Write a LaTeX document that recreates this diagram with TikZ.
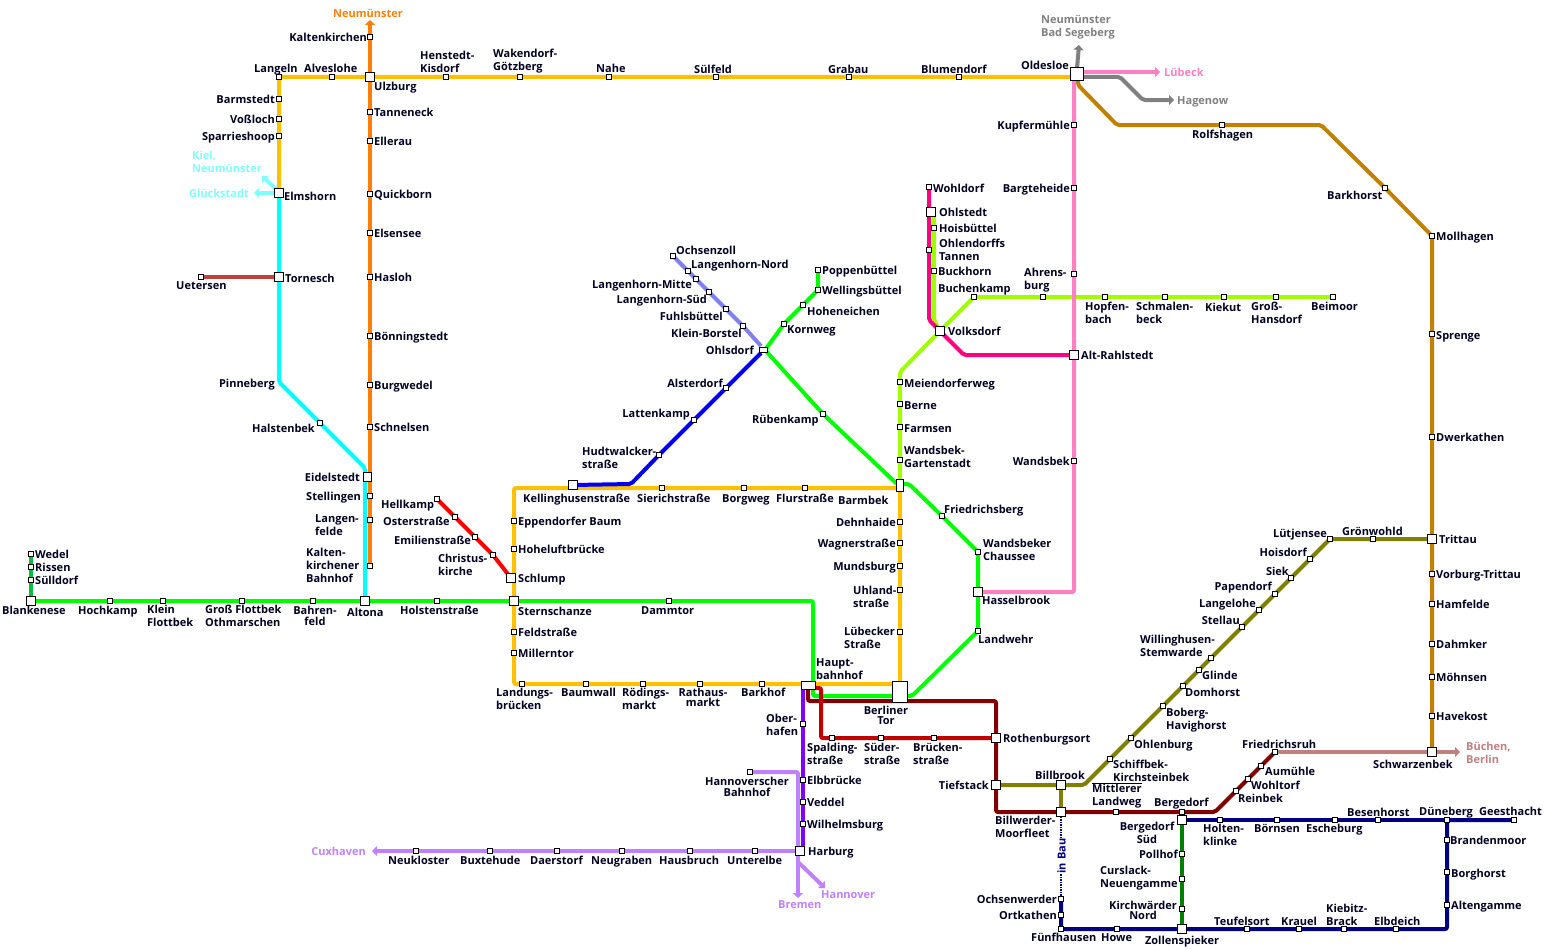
\documentclass[tikz,border=0pt]{standalone}
\usepackage{fontspec}
\setmainfont{Open Sans}
\usetikzlibrary{arrows.meta,backgrounds}
\definecolor{lyellow}{RGB}{255,192,0}
\definecolor{lorange}{RGB}{255,128,0}
\definecolor{lcyan}{RGB}{0,255,255}
\definecolor{lcyanb}{RGB}{128,255,255}
\definecolor{lgreen}{RGB}{0,255,0}
\definecolor{lgreend}{RGB}{0,192,64}
\definecolor{lred}{RGB}{255,0,0}
\definecolor{lblue}{RGB}{0,0,240}
\definecolor{llav}{RGB}{128,128,240}
\definecolor{lpurple}{RGB}{128,0,255}
\definecolor{llilac}{RGB}{192,128,255}
\definecolor{lmaroon}{RGB}{128,0,0}
\definecolor{lcrimson}{RGB}{192,0,0}
\definecolor{lolive}{RGB}{128,128,0}
\definecolor{lpink}{RGB}{255,128,192}
\definecolor{lmagenta}{RGB}{255,0,128}
\definecolor{llime}{RGB}{160,255,0}
\definecolor{lbrown}{RGB}{192,128,0}
\definecolor{lgrey}{RGB}{128,128,128}
\definecolor{lnavy}{RGB}{0,0,128}
\definecolor{lforest}{RGB}{0,128,0}
\definecolor{lrosy}{RGB}{192,128,128}
\definecolor{lbrick}{RGB}{192,64,64}
\definecolor{tink}{RGB}{0,0,32}
\tikzset{
  stop/.style={draw=black,fill=white,line width=1pt,minimum size=4.5pt,inner sep=0pt},
  hub/.style={draw=black,fill=white,line width=1pt,minimum size=8.5pt,inner sep=0pt},
  txt/.style={anchor=west,align=left,inner sep=0pt,text=tink,font=\fontsize{11}{13}\selectfont\bfseries,text height=9pt,text depth=0pt},
  txtr/.style={txt,anchor=east,align=right},
  txtc/.style={txt,anchor=center,align=center},
  txm/.style={txt,text height=,text depth=},
  txmc/.style={txtc,text height=,text depth=},
  track/.style={line width=4pt,rounded corners=2pt},
  tip/.style={-{Triangle[length=5pt,width=10pt]}}
}
\begin{document}
\begin{tikzpicture}[x=1pt,y=-1pt]
\useasboundingbox (0,0) rectangle (1550,950);
% west: S1 and Wedel
\node[stop] (wedel) at (31,554) {}; \node[txt] (wedel_t) at (35,554) {Wedel};
\node[stop] (rissen) at (31,567) {}; \node[txt] (rissen_t) at (35,567) {Rissen};
\node[stop] (suelldorf) at (31,580) {}; \node[txt] (suelldorf_t) at (35,580) {Sülldorf};
\node[hub] (blankenese) at (31,601) {}; \node[txt] (blankenese_t) at (2,610) {Blankenese};
\node[stop] (hochkamp) at (110,601) {}; \node[txt] (hochkamp_t) at (78,610) {Hochkamp};
\node[stop] (kleinfl) at (163,601) {}; \node[txm] (kleinfl_t) at (147,616) {Klein\\Flottbek};
\node[stop] (othm) at (242,601) {}; \node[txm] (othm_t) at (205,616) {Groß Flottbek\\Othmarschen};
\node[stop] (bahrenfeld) at (313,601) {}; \node[txmc] (bahrenfeld_t) at (315,615.5) {Bahren-\\[-2pt]feld};
\node[hub] (altona) at (365,601) {}; \node[txt] (altona_t) at (347,612) {Altona};
\node[stop] (holsten) at (437,601) {}; \node[txt] (holsten_t) at (400,610) {Holstenstraße};
\node[hub] (sternschanze) at (514,601) {}; \node[txt] (sternschanze_t) at (518,611) {Sternschanze};
\node[stop] (dammtor) at (669,601) {}; \node[txt] (dammtor_t) at (641,610) {Dammtor};
% AKN and north-west
\node[stop] (langeln) at (279,77) {}; \node[txt] (langeln_t) at (254,68) {Langeln};
\node[stop] (alveslohe) at (332,77) {}; \node[txt] (alveslohe_t) at (304,68) {Alveslohe};
\node[hub] (ulzburg) at (370,77) {}; \node[txt] (ulzburg_t) at (374,86) {Ulzburg};
\node[stop] (henstedt) at (446,77) {}; \node[txm] (henstedt_t) at (420,62) {Henstedt-\\Kisdorf};
\node[stop] (wakendorf) at (520,77) {}; \node[txm] (wakendorf_t) at (493,61) {Wakendorf-\\Götzberg};
\node[stop] (nahe) at (609,77) {}; \node[txt] (nahe_t) at (596,68) {Nahe};
\node[stop] (suelfeld) at (716,77) {}; \node[txt] (suelfeld_t) at (694,69) {Sülfeld};
\node[stop] (grabau) at (849,77) {}; \node[txt] (grabau_t) at (828,69) {Grabau};
\node[stop] (blumendorf) at (959,77) {}; \node[txt] (blumendorf_t) at (921,69) {Blumendorf};
\node[hub,minimum size=13pt] (oldesloe) at (1076.5,74) {}; \node[txtr] (oldesloe_t) at (1069,65) {Oldesloe};
\node[stop] (barmstedt) at (279,99) {}; \node[txtr] (barmstedt_t) at (275,99) {Barmstedt};
\node[stop] (vossloch) at (279,119) {}; \node[txtr] (vossloch_t) at (275,119) {Voßloch};
\node[stop] (sparries) at (279,136) {}; \node[txtr] (sparries_t) at (275,136) {Sparrieshoop};
\node[hub] (elmshorn) at (279,193) {}; \node[txt] (elmshorn_t) at (284,196) {Elmshorn};
\node[hub] (tornesch) at (279,277) {}; \node[txt] (tornesch_t) at (285,278) {Tornesch};
\coordinate (pinneberg) at (279,382); \node[txtr] (pinneberg_t) at (275,383) {Pinneberg};
\node[stop] (halstenbek) at (320,423) {}; \node[txtr] (halstenbek_t) at (315,428) {Halstenbek};
\node[hub] (eidelstedt) at (367.5,477) {}; \node[txtr] (eidelstedt_t) at (360,477) {Eidelstedt};
\node[stop] (uetersen) at (201,277) {}; \node[txt] (uetersen_t) at (176,285) {Uetersen};
\node[stop] (kaltenk) at (370,37) {}; \node[txtr] (kaltenk_t) at (367,37) {Kaltenkirchen};
\node[stop] (tanneneck) at (370,112) {}; \node[txt] (tanneneck_t) at (374,112) {Tanneneck};
\node[stop] (ellerau) at (370,141) {}; \node[txt] (ellerau_t) at (374,141) {Ellerau};
\node[stop] (quickborn) at (370,194) {}; \node[txt] (quickborn_t) at (374,194) {Quickborn};
\node[stop] (elsensee) at (370,233) {}; \node[txt] (elsensee_t) at (374,233) {Elsensee};
\node[stop] (hasloh) at (370,277) {}; \node[txt] (hasloh_t) at (374,277) {Hasloh};
\node[stop] (boenning) at (370,336) {}; \node[txt] (boenning_t) at (374,336) {Bönningstedt};
\node[stop] (burgwedel) at (370,385) {}; \node[txt] (burgwedel_t) at (374,385) {Burgwedel};
\node[stop] (schnelsen) at (370,427) {}; \node[txt] (schnelsen_t) at (374,427) {Schnelsen};
\node[stop] (stellingen) at (370,496) {}; \node[txtr] (stellingen_t) at (361,496) {Stellingen};
\node[stop] (langenfelde) at (370,520) {}; \node[txm] (langenfelde_t) at (315,525) {Langen-\\felde};
\node[stop] (kaltenkbf) at (370,566) {}; \node[txm] (kaltenkbf_t) at (306,565) {Kalten-\\kirchener\\Bahnhof};
% U2 stub and the ring
\node[stop] (hellkamp) at (437,499) {}; \node[txt] (hellkamp_t) at (381,504) {Hellkamp};
\node[stop] (osterstr) at (455,517) {}; \node[txt] (osterstr_t) at (383,521) {Osterstraße};
\node[stop] (emilien) at (475,537) {}; \node[txt] (emilien_t) at (394,540) {Emilienstraße};
\node[stop] (christus) at (493,555) {}; \node[txm] (christus_t) at (438,565) {Christus-\\kirche};
\node[hub] (schlump) at (511,578) {}; \node[txt] (schlump_t) at (518,578) {Schlump};
\node[stop] (eppendorf) at (514,521) {}; \node[txt] (eppendorf_t) at (518,521) {Eppendorfer Baum};
\node[stop] (hoheluft) at (514,549) {}; \node[txt] (hoheluft_t) at (518,549) {Hoheluftbrücke};
\node[stop] (feldstr) at (514,632) {}; \node[txt] (feldstr_t) at (518,632) {Feldstraße};
\node[stop] (millerntor) at (514,653) {}; \node[txt] (millerntor_t) at (518,653) {Millerntor};
\node[stop] (landungsbr) at (522,684) {}; \node[txm] (landungsbr_t) at (496,699) {Landungs-\\brücken};
\node[stop] (baumwall) at (586,684) {}; \node[txt] (baumwall_t) at (561,692) {Baumwall};
\node[stop] (roedings) at (643,684) {}; \node[txm] (roedings_t) at (622,699) {Rödings-\\markt};
\node[stop] (rathaus) at (700,684) {}; \node[txmc] (rathaus_t) at (703,697) {Rathaus-\\[-3pt]markt};
\node[stop] (barkhof) at (762,684) {}; \node[txt] (barkhof_t) at (741,692) {Barkhof};
\node[hub,minimum width=14pt,minimum height=8pt] (hbf) at (808,685) {}; \node[txm] (hbf_t) at (816,669) {Haupt-\\bahnhof};
\node[hub,minimum width=15pt,minimum height=21pt] (berlinertor) at (900,691.5) {}; \node[txmc] (berlinertor_t) at (886,715) {Berliner\\[-3pt]Tor};
\node[hub] (kelling) at (573,485) {}; \node[txt] (kelling_t) at (523,498) {Kellinghusenstraße};
\node[stop] (sierich) at (662,488) {}; \node[txt] (sierich_t) at (637,498) {Sierichstraße};
\node[stop] (borgweg) at (744,488) {}; \node[txt] (borgweg_t) at (722,498) {Borgweg};
\node[stop] (flurstr) at (805,488) {}; \node[txt] (flurstr_t) at (776,498) {Flurstraße};
\node[hub,minimum width=7pt,minimum height=12pt] (barmbek) at (900,485) {}; \node[txt] (barmbek_t) at (838,500) {Barmbek};
\node[stop] (dehnhaide) at (900,522) {}; \node[txtr] (dehnhaide_t) at (896,522) {Dehnhaide};
\node[stop] (wagnerstr) at (900,543) {}; \node[txtr] (wagnerstr_t) at (896,543) {Wagnerstraße};
\node[stop] (mundsburg) at (900,566) {}; \node[txtr] (mundsburg_t) at (896,566) {Mundsburg};
\node[stop] (uhland) at (900,590) {}; \node[txm] (uhland_t) at (853,597) {Uhland-\\straße};
\node[stop] (luebeckerstr) at (900,632) {}; \node[txm] (luebeckerstr_t) at (844,638) {Lübecker\\Straße};
% Ohlsdorf branches
\node[hub,minimum width=8pt,minimum height=5pt] (ohlsdorf) at (763,350) {}; \node[txtr] (ohlsdorf_t) at (754,350) {Ohlsdorf};
\node[stop] (ochsenzoll) at (673,256) {}; \node[txt] (ochsenzoll_t) at (676,250) {Ochsenzoll};
\node[stop] (lhnord) at (688,271) {}; \node[txt] (lhnord_t) at (691,264) {Langenhorn-Nord};
\node[stop] (lhmitte) at (696,279) {}; \node[txtr] (lhmitte_t) at (692,284) {Langenhorn-Mitte};
\node[stop] (lhsued) at (709,292) {}; \node[txtr] (lhsued_t) at (707,299) {Langenhorn-Süd};
\node[stop] (fuhls) at (726,309) {}; \node[txtr] (fuhls_t) at (723,316) {Fuhlsbüttel};
\node[stop] (kleinborstel) at (743,326) {}; \node[txtr] (kleinborstel_t) at (742,333) {Klein-Borstel};
\node[stop] (poppenb) at (818,270) {}; \node[txt] (poppenb_t) at (822,270) {Poppenbüttel};
\node[stop] (wellingsb) at (818,290) {}; \node[txt] (wellingsb_t) at (822,290) {Wellingsbüttel};
\node[stop] (hoheneichen) at (803,305) {}; \node[txt] (hoheneichen_t) at (807,311) {Hoheneichen};
\node[stop] (kornweg) at (784,324) {}; \node[txt] (kornweg_t) at (787,329) {Kornweg};
\node[stop] (ruebenkamp) at (823,414) {}; \node[txt] (ruebenkamp_t) at (752,419) {Rübenkamp};
\node[stop] (alsterdorf) at (726,388) {}; \node[txtr] (alsterdorf_t) at (723,383) {Alsterdorf};
\node[stop] (lattenkamp) at (694,420) {}; \node[txtr] (lattenkamp_t) at (690,413) {Lattenkamp};
\node[stop] (hudtwalcker) at (659,455) {}; \node[txm] (hudtwalcker_t) at (582,458) {Hudtwalcker-\\straße};
\node[stop] (friedrichsbg) at (942,516) {}; \node[txt] (friedrichsbg_t) at (944,509) {Friedrichsberg};
\node[stop] (wandsbekch) at (978,552) {}; \node[txm] (wandsbekch_t) at (983,550) {Wandsbeker\\Chaussee};
\node[hub] (hasselbrook) at (978,592) {}; \node[txt] (hasselbrook_t) at (982,600) {Hasselbrook};
\node[stop] (landwehr) at (978,631) {}; \node[txt] (landwehr_t) at (978,639) {Landwehr};
% Walddoerfer
\node[stop] (wohldorf) at (929,187) {}; \node[txt] (wohldorf_t) at (933,188) {Wohldorf};
\node[hub] (ohlstedt) at (931,212) {}; \node[txt] (ohlstedt_t) at (939,212) {Ohlstedt};
\node[stop] (hoisbuettel) at (934,228) {}; \node[txt] (hoisbuettel_t) at (939,228) {Hoisbüttel};
\node[stop] (ohlendorffs) at (929,250) {}; \node[txm] (ohlendorffs_t) at (939,250) {Ohlendorffs\\Tannen};
\node[stop] (buckhorn) at (934,271) {}; \node[txt] (buckhorn_t) at (938,271) {Buckhorn};
\node[stop] (buchenkamp) at (974,297) {}; \node[txt] (buchenkamp_t) at (938,288) {Buchenkamp};
\node[hub] (volksdorf) at (940,331) {}; \node[txt] (volksdorf_t) at (948,331) {Volksdorf};
\node[stop] (ahrensbg) at (1043,297) {}; \node[txm] (ahrensbg_t) at (1024,280) {Ahrens-\\burg};
\node[stop] (hopfenbach) at (1105,297) {}; \node[txm] (hopfenbach_t) at (1085,313) {Hopfen-\\bach};
\node[stop] (schmalenb) at (1165,297) {}; \node[txm] (schmalenb_t) at (1136,313) {Schmalen-\\beck};
\node[stop] (kiekut) at (1224,297) {}; \node[txt] (kiekut_t) at (1205,307) {Kiekut};
\node[stop] (hansdorf) at (1276,297) {}; \node[txm] (hansdorf_t) at (1251,313) {Groß-\\Hansdorf};
\node[stop] (beimoor) at (1333,297) {}; \node[txt] (beimoor_t) at (1311,306) {Beimoor};
\node[stop] (meiendorf) at (900,382) {}; \node[txt] (meiendorf_t) at (904,383) {Meiendorferweg};
\node[stop] (berne) at (900,404) {}; \node[txt] (berne_t) at (904,405) {Berne};
\node[stop] (farmsen) at (900,427) {}; \node[txt] (farmsen_t) at (904,428) {Farmsen};
\node[stop] (gartenstadt) at (900,460) {}; \node[txm] (gartenstadt_t) at (904,457) {Wandsbek-\\Gartenstadt};
% Luebeck line
\node[stop] (kupfer) at (1074,125) {}; \node[txtr] (kupfer_t) at (1070,125) {Kupfermühle};
\node[stop] (bargteheide) at (1074,188) {}; \node[txtr] (bargteheide_t) at (1070,188) {Bargteheide};
\node[stop] (ahrensb) at (1074,274) {};
\node[hub] (altrahl) at (1074,355) {}; \node[txt] (altrahl_t) at (1081,355) {Alt-Rahlstedt};
\node[stop] (wandsbek) at (1074,461) {}; \node[txtr] (wandsbek_t) at (1070,461) {Wandsbek};
% Trittau and Schwarzenbek
\node[stop] (rolfshagen) at (1222,125) {}; \node[txt] (rolfshagen_t) at (1192,134) {Rolfshagen};
\node[stop] (barkhorst) at (1385,188) {}; \node[txt] (barkhorst_t) at (1327,195) {Barkhorst};
\node[stop] (mollhagen) at (1432,236) {}; \node[txt] (mollhagen_t) at (1436,236) {Mollhagen};
\node[stop] (sprenge) at (1432,334) {}; \node[txt] (sprenge_t) at (1436,335) {Sprenge};
\node[stop] (dwerkathen) at (1432,437) {}; \node[txt] (dwerkathen_t) at (1436,437) {Dwerkathen};
\node[hub] (trittau) at (1432,539) {}; \node[txt] (trittau_t) at (1439,539) {Trittau};
\node[stop] (vorburg) at (1432,574) {}; \node[txt] (vorburg_t) at (1436,574) {Vorburg-Trittau};
\node[stop] (hamfelde) at (1432,604) {}; \node[txt] (hamfelde_t) at (1436,604) {Hamfelde};
\node[stop] (dahmker) at (1432,644) {}; \node[txt] (dahmker_t) at (1436,644) {Dahmker};
\node[stop] (moehnsen) at (1432,677) {}; \node[txt] (moehnsen_t) at (1436,677) {Möhnsen};
\node[stop] (havekost) at (1432,716) {}; \node[txt] (havekost_t) at (1436,716) {Havekost};
\node[hub] (schwarzenbek) at (1432,752) {}; \node[txt] (schwarzenbek_t) at (1373,764) {Schwarzenbek};
\node[stop] (groenwohld) at (1373,539) {}; \node[txt] (groenwohld_t) at (1342,531) {Grönwohld};
\node[stop] (luetjensee) at (1330,539) {}; \node[txtr] (luetjensee_t) at (1327,533) {Lütjensee};
\node[stop] (hoisdorf) at (1310,559) {}; \node[txtr] (hoisdorf_t) at (1307,552) {Hoisdorf};
\node[stop] (siek) at (1291,578) {}; \node[txtr] (siek_t) at (1289,571) {Siek};
\node[stop] (papendorf) at (1275,594) {}; \node[txtr] (papendorf_t) at (1272,586) {Papendorf};
\node[stop] (langelohe) at (1259,610) {}; \node[txtr] (langelohe_t) at (1256,603) {Langelohe};
\node[stop] (stellau) at (1242,627) {}; \node[txtr] (stellau_t) at (1240,620) {Stellau};
\node[stop] (willing) at (1211,658) {}; \node[txm] (willing_t) at (1140,646) {Willinghusen-\\Stemwarde};
\node[stop] (glinde) at (1199,670) {}; \node[txt] (glinde_t) at (1202,675) {Glinde};
\node[stop] (domhorst) at (1183,686) {}; \node[txt] (domhorst_t) at (1185,692) {Domhorst};
\node[stop] (boberg) at (1163,706) {}; \node[txm] (boberg_t) at (1166,720) {Boberg-\\Havighorst};
\node[stop] (ohlenburg) at (1131,738) {}; \node[txt] (ohlenburg_t) at (1134,744) {Ohlenburg};
\node[stop] (schiffbek) at (1110,759) {}; \node[txm] (schiffbek_t) at (1113,771) {Schiffbek-\\Kirchsteinbek};
% Bille and Bergedorf
\node[hub] (rothenburgs) at (996,738) {}; \node[txt] (rothenburgs_t) at (1003,738) {Rothenburgsort};
\node[stop] (spalding) at (832,738) {}; \node[txm] (spalding_t) at (807,753.5) {Spalding-\\straße};
\node[stop] (suederstr) at (881,738) {}; \node[txm] (suederstr_t) at (864,753.5) {Süder-\\straße};
\node[stop] (brueckenstr) at (934,738) {}; \node[txm] (brueckenstr_t) at (913,753.5) {Brücken-\\straße};
\node[hub] (tiefstack) at (996,785) {}; \node[txtr] (tiefstack_t) at (989,785) {Tiefstack};
\node[hub] (billbrook) at (1061,785) {}; \node[txt] (billbrook_t) at (1035,775) {Billbrook};
\node[hub] (billwerder) at (1061,812) {}; \node[txm] (billwerder_t) at (995,827) {Billwerder-\\Moorfleet};
\node[stop] (landweg) at (1116,812) {}; \node[txm] (landweg_t) at (1092,796) {Mittlerer\\Landweg};
\node[stop] (bergedorf) at (1182,812) {}; \node[txt] (bergedorf_t) at (1154,802) {Bergedorf};
\node[stop] (reinbek) at (1236,791) {}; \node[txt] (reinbek_t) at (1238,798) {Reinbek};
\node[stop] (wohltorf) at (1248,779) {}; \node[txt] (wohltorf_t) at (1251,785) {Wohltorf};
\node[stop] (aumuehle) at (1261,766) {}; \node[txt] (aumuehle_t) at (1265,771) {Aumühle};
\node[stop] (friedrichsr) at (1275,752) {}; \node[txt] (friedrichsr_t) at (1242,744) {Friedrichsruh};
% Harburg
\node[stop] (oberhafen) at (803,724) {}; \node[txm] (oberhafen_t) at (766,724.5) {Ober-\\hafen};
\node[stop] (elbbruecke) at (803,780) {}; \node[txt] (elbbruecke_t) at (807,780) {Elbbrücke};
\node[stop] (veddel) at (803,802) {}; \node[txt] (veddel_t) at (807,802) {Veddel};
\node[stop] (wilhelmsb) at (803,824) {}; \node[txt] (wilhelmsb_t) at (807,824) {Wilhelmsburg};
\node[hub,minimum size=9pt] (harburg) at (800,851) {}; \node[txt] (harburg_t) at (808,851) {Harburg};
\node[stop] (hannbf) at (750,772) {}; \node[txmc] (hannbf_t) at (747,786.5) {Hannoverscher\\[-2pt]Bahnhof};
\node[stop] (unterelbe) at (755,851) {}; \node[txt] (unterelbe_t) at (727,860) {Unterelbe};
\node[stop] (hausbruch) at (690,851) {}; \node[txt] (hausbruch_t) at (659,860) {Hausbruch};
\node[stop] (neugraben) at (622,851) {}; \node[txt] (neugraben_t) at (591,860) {Neugraben};
\node[stop] (daerstorf) at (557,851) {}; \node[txt] (daerstorf_t) at (530,860) {Daerstorf};
\node[stop] (buxtehude) at (490,851) {}; \node[txt] (buxtehude_t) at (460,860) {Buxtehude};
\node[stop] (neukloster) at (416,851) {}; \node[txt] (neukloster_t) at (388,860) {Neukloster};
% Vierlande
\node[hub] (bergedsued) at (1182,820) {}; \node[txmc] (bergedsued_t) at (1147,833) {Bergedorf\\Süd};
\node[stop] (pollhof) at (1182,854) {}; \node[txtr] (pollhof_t) at (1178,854) {Pollhof};
\node[stop] (curslack) at (1182,879) {}; \node[txm] (curslack_t) at (1100,878) {Curslack-\\Neuengamme};
\node[stop] (kirchwaerder) at (1182,909) {}; \node[txmc] (kirchwaerder_t) at (1143,910) {Kirchwärder\\[-3pt]Nord};
\node[hub] (zollensp) at (1182,929) {}; \node[txtc] (zollensp_t) at (1182,940) {Zollenspieker};
\node[stop] (holtenkl) at (1220,820) {}; \node[txm] (holtenkl_t) at (1203,835) {Holten-\\klinke};
\node[stop] (boernsen) at (1277,820) {}; \node[txt] (boernsen_t) at (1254,828) {Börnsen};
\node[stop] (escheburg) at (1335,820) {}; \node[txt] (escheburg_t) at (1306,828) {Escheburg};
\node[stop] (besenhorst) at (1378,820) {}; \node[txt] (besenhorst_t) at (1347,812) {Besenhorst};
\node[stop] (dueneberg) at (1447,820) {}; \node[txt] (dueneberg_t) at (1419,811) {Düneberg};
\node[stop] (geesthacht) at (1514,820) {}; \node[txt] (geesthacht_t) at (1479,811) {Geesthacht};
\node[stop] (brandenmoor) at (1447,840) {}; \node[txt] (brandenmoor_t) at (1450,840) {Brandenmoor};
\node[stop] (borghorst) at (1447,872) {}; \node[txt] (borghorst_t) at (1451,873) {Borghorst};
\node[stop] (altengamme) at (1447,905) {}; \node[txt] (altengamme_t) at (1451,905) {Altengamme};
\node[stop] (elbdeich) at (1396,929) {}; \node[txt] (elbdeich_t) at (1374,921) {Elbdeich};
\node[stop] (kiebitz) at (1344,929) {}; \node[txm] (kiebitz_t) at (1326,915) {Kiebitz-\\Brack};
\node[stop] (krauel) at (1299,929) {}; \node[txt] (krauel_t) at (1281,921) {Krauel};
\node[stop] (teufelsort) at (1247,929) {}; \node[txt] (teufelsort_t) at (1214,921) {Teufelsort};
\node[stop] (howe) at (1117,929) {}; \node[txt] (howe_t) at (1101,937) {Howe};
\node[stop] (fuenfhausen) at (1061,929) {}; \node[txt] (fuenfhausen_t) at (1031,937) {Fünfhausen};
\node[stop] (ortkathen) at (1061,915) {}; \node[txtr] (ortkathen_t) at (1057,915) {Ortkathen};
\node[stop] (ochsenw) at (1061,899) {}; \node[txtr] (ochsenw_t) at (1057,899) {Ochsenwerder};
% coloured direction labels
\node[txtc,text=lorange] (to_neumuenster_t) at (368,13) {Neumünster};
\node[txm,text=lcyanb] (to_kiel_t) at (192,161.5) {Kiel,\\Neumünster};
\node[txtr,text=lcyanb] (to_glueck_t) at (249,193) {Glückstadt};
\node[txm,text=lgrey] (to_segeberg_t) at (1041,27) {Neumünster\\Bad Segeberg};
\node[txt,text=lpink] (to_luebeck_t) at (1164,72) {Lübeck};
\node[txt,text=lgrey] (to_hagenow_t) at (1177,100) {Hagenow};
\node[txm,text=lrosy] (to_buechen_t) at (1466,752.5) {Büchen,\\Berlin};
\node[txtr,text=llilac] (to_cuxhaven_t) at (366,851) {Cuxhaven};
\node[txt,text=llilac] (to_bremen_t) at (778,904) {Bremen};
\node[txt,text=llilac] (to_hannover_t) at (821,894) {Hannover};
\node[txtc,text=lnavy,rotate=90,fill=white] (inbau_t) at (1061,856) {in Bau};
% arrow ends and bends
\coordinate (to_neumuenster) at (370,20);
\coordinate (to_kiel) at (262,176);
\coordinate (to_glueck) at (254,193);
\coordinate (to_segeberg) at (1079,45);
\coordinate (to_luebeck) at (1160,72);
\coordinate (to_hagenow) at (1174,100);
\coordinate (to_buechen) at (1460,752);
\coordinate (to_cuxhaven) at (372,851);
\coordinate (to_bremen) at (798,898);
\coordinate (to_hannover) at (825,888);
\coordinate (rule_a) at (1092,783);
\coordinate (rule_b) at (1142,783);
\begin{scope}[on background layer]
% S1 Wedel stub, main line, Poppenbuettel
\draw[track,lgreend] (wedel.center) -- (rissen.center) -- (suelldorf.center) -- (blankenese.center);
\draw[track,lgreen] (blankenese.center) -- (hochkamp.center) -- (kleinfl.center) -- (othm.center) -- (bahrenfeld.center) -- (altona.center) -- (holsten.center) -- (sternschanze.center) -- (dammtor.center) -- (813,601) -- (813,696) -- (912,696) -- (landwehr.center) -- (hasselbrook.center) -- (wandsbekch.center) -- (friedrichsbg.center) -- (909,484) -- (897,484) -- (ruebenkamp.center) -- (765,350) -- (kornweg.center) -- (hoheneichen.center) -- (wellingsb.center) -- (poppenb.center);
% AKN lines
\draw[track,lorange,tip] (kaltenkbf.center) -- (stellingen.center) -- (schnelsen.center) -- (burgwedel.center) -- (boenning.center) -- (hasloh.center) -- (elsensee.center) -- (quickborn.center) -- (ellerau.center) -- (tanneneck.center) -- (ulzburg.center) -- (kaltenk.center) -- (to_neumuenster);
\draw[track,lcyan] (elmshorn.center) -- (tornesch.center) -- (pinneberg) -- (halstenbek.center) -- (365,468) -- (altona.center);
\draw[track,lcyanb,tip] (elmshorn.center) -- (to_glueck);
\draw[track,lcyanb,tip] (278,191) -- (to_kiel);
\draw[track,lbrick] (uetersen.center) -- (tornesch.center);
\draw[track,lyellow] (elmshorn.center) -- (sparries.center) -- (vossloch.center) -- (barmstedt.center) -- (langeln.center) -- (alveslohe.center) -- (ulzburg.center) -- (henstedt.center) -- (wakendorf.center) -- (nahe.center) -- (suelfeld.center) -- (grabau.center) -- (blumendorf.center) -- (1072,77);
% U-Bahn
\draw[track,lred] (hellkamp.center) -- (osterstr.center) -- (emilien.center) -- (christus.center) -- (schlump.center);
\draw[track,lyellow] (900,684) -- (barkhof.center) -- (roedings.center) -- (baumwall.center) -- (landungsbr.center) -- (514,684) -- (millerntor.center) -- (feldstr.center) -- (sternschanze.center) -- (hoheluft.center) -- (eppendorf.center) -- (514,488) -- (sierich.center) -- (borgweg.center) -- (flurstr.center) -- (900,488) -- (dehnhaide.center) -- (wagnerstr.center) -- (mundsburg.center) -- (uhland.center) -- (luebeckerstr.center) -- (berlinertor.center);
\draw[track,lblue] (kelling.center) -- (631,484) -- (hudtwalcker.center) -- (lattenkamp.center) -- (alsterdorf.center) -- (761,353);
\draw[track,llav] (ochsenzoll.center) -- (lhnord.center) -- (lhmitte.center) -- (lhsued.center) -- (fuhls.center) -- (kleinborstel.center) -- (761,346);
% Walddoerfer
\draw[track,llime] (934,212) -- (hoisbuettel.center) -- (buckhorn.center) -- (934,320) -- (volksdorf.center);
\draw[track,llime] (barmbek.center) -- (900,372) -- (volksdorf.center) -- (buchenkamp.center) -- (ahrensbg.center) -- (hopfenbach.center) -- (schmalenb.center) -- (kiekut.center) -- (hansdorf.center) -- (beimoor.center);
\draw[track,lmagenta] (wohldorf.center) -- (ohlendorffs.center) -- (929,320) -- (964,355) -- (altrahl.center);
% Luebeck line, grey and brown
\draw[track,lgrey,tip] (oldesloe.center) -- (to_segeberg);
\draw[track,lgrey,tip] (1080,77) -- (1120,77) -- (1143,100) -- (to_hagenow);
\draw[track,lbrown] (1078,78) -- (1078,85) -- (1117,125) -- (rolfshagen.center) -- (1321,125) -- (barkhorst.center) -- (mollhagen.center) -- (sprenge.center) -- (dwerkathen.center) -- (trittau.center) -- (vorburg.center) -- (hamfelde.center) -- (dahmker.center) -- (moehnsen.center) -- (havekost.center) -- (schwarzenbek.center);
\draw[track,lpink] (1074,74) -- (kupfer.center) -- (bargteheide.center) -- (ahrensb.center) -- (altrahl.center) -- (wandsbek.center) -- (1074,592) -- (hasselbrook.center);
\draw[track,lpink,tip] (1080,72) -- (to_luebeck);
\draw[track,lrosy,tip] (friedrichsr.center) -- (schwarzenbek.center) -- (to_buechen);
% Harburg
\draw[track,llilac] (hannbf.center) -- (798,772) -- (798,851);
\draw[track,llilac,tip] (harburg.center) -- (unterelbe.center) -- (hausbruch.center) -- (neugraben.center) -- (daerstorf.center) -- (buxtehude.center) -- (neukloster.center) -- (to_cuxhaven);
\draw[track,llilac,tip] (798,851) -- (to_bremen);
\draw[track,llilac,tip] (798,862) -- (to_hannover);
\draw[track,lpurple] (803,685) -- (oberhafen.center) -- (elbbruecke.center) -- (veddel.center) -- (wilhelmsb.center) -- (803,851);
% olive, maroon, crimson
\draw[track,lolive] (tiefstack.center) -- (billbrook.center) -- (1084,785) -- (schiffbek.center) -- (ohlenburg.center) -- (boberg.center) -- (domhorst.center) -- (glinde.center) -- (willing.center) -- (stellau.center) -- (langelohe.center) -- (papendorf.center) -- (siek.center) -- (hoisdorf.center) -- (luetjensee.center) -- (groenwohld.center) -- (trittau.center);
\draw[track,lolive] (billbrook.center) -- (billwerder.center);
\draw[track,lmaroon] (808,685) -- (808,701) -- (996,701) -- (rothenburgs.center) -- (tiefstack.center) -- (996,812) -- (billwerder.center) -- (landweg.center) -- (bergedorf.center) -- (1215,812) -- (reinbek.center) -- (wohltorf.center) -- (aumuehle.center) -- (friedrichsr.center);
\draw[track,lcrimson] (812,688) -- (821,688) -- (821,738) -- (spalding.center) -- (suederstr.center) -- (brueckenstr.center) -- (rothenburgs.center);
% Vierlande
\draw[track,lforest] (bergedsued.center) -- (pollhof.center) -- (curslack.center) -- (kirchwaerder.center) -- (zollensp.center);
\draw[track,lnavy] (ochsenw.center) -- (ortkathen.center) -- (fuenfhausen.center) -- (howe.center) -- (zollensp.center) -- (teufelsort.center) -- (krauel.center) -- (kiebitz.center) -- (elbdeich.center) -- (1447,929) -- (altengamme.center) -- (borghorst.center) -- (brandenmoor.center) -- (dueneberg.center) -- (geesthacht.center);
\draw[track,lnavy] (bergedsued.center) -- (holtenkl.center) -- (boernsen.center) -- (escheburg.center) -- (besenhorst.center) -- (dueneberg.center);
\draw[lnavy,line width=1.5pt,densely dotted] (billwerder) -- (ochsenw);
\draw[black,line width=0.8pt] (rule_a) -- (rule_b);
\end{scope}
\end{tikzpicture}
\end{document}
